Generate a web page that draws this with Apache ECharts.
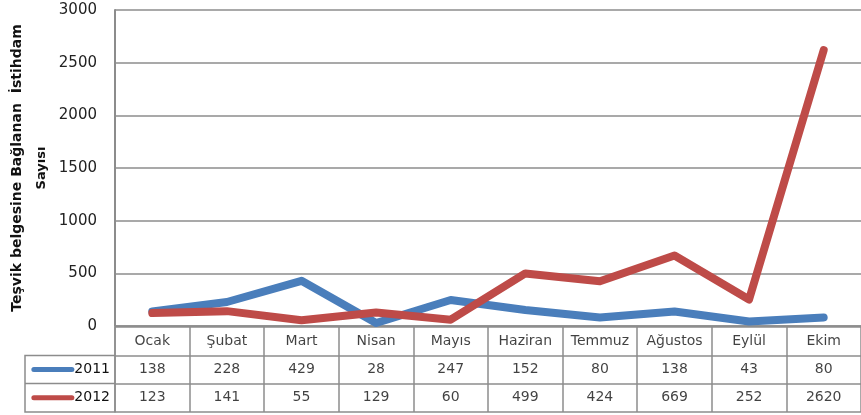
<!DOCTYPE html>
<html>
<head>
<meta charset="utf-8">
<script src="https://cdn.jsdelivr.net/npm/echarts@6/dist/echarts.min.js"></script>
<style>
html, body { margin: 0; padding: 0; background: #fff; }
#chart { width: 861px; height: 415px; }
</style>
</head>
<body>
<div id="chart"></div>
<script>
// aylar ve yıllara göre istihdam sayıları
const months = ['Ocak', 'Şubat', 'Mart', 'Nisan', 'Mayıs', 'Haziran', 'Temmuz', 'Ağustos', 'Eylül', 'Ekim']
const years = ['2011', '2012']
const data2011 = [138, 228, 429, 28, 247, 152, 80, 138, 43, 80]
const data2012 = [123, 141, 55, 129, 60, 499, 424, 669, 252, 2620]
const colors = ['#4a7ebb', '#be4b48']
const yTicks = { min: 0, max: 3000, interval: 500 }

const FONT = 'DejaVu Sans'
const GRID_COLOR = '#8c8c8c'

let chart = echarts.init(document.getElementById('chart'))

// tablo hücreleri: [ay indeksi, satır, değer]
let cells = []
months.forEach(function (m, i) {
  cells.push([i, 'ay', m])
  cells.push([i, years[0], data2011[i]])
  cells.push([i, years[1], data2012[i]])
})

let option = {
  animation: false,
  grid: [
    { left: 115, right: 0, top: 10, height: 316, containLabel: false, outerBoundsMode: 'none' },
    { left: 115, right: 0, top: 327, height: 85, containLabel: false, outerBoundsMode: 'none' }
  ],
  xAxis: [{
    gridIndex: 0,
    type: 'category',
    data: months,
    boundaryGap: true,
    axisLine: { show: true, lineStyle: { color: GRID_COLOR, width: 1.5 } },
    axisTick: { show: false },
    axisLabel: { show: false },
    splitLine: { show: false }
  }, {
    gridIndex: 1,
    type: 'category',
    data: months,
    boundaryGap: true,
    axisLine: { show: false },
    axisTick: { show: false },
    axisLabel: { show: false },
    splitLine: { show: true, lineStyle: { color: GRID_COLOR, width: 1.5 } }
  }],
  yAxis: [{
    gridIndex: 0,
    type: 'value',
    min: yTicks.min,
    max: yTicks.max,
    interval: yTicks.interval,
    axisLine: { show: true, lineStyle: { color: GRID_COLOR, width: 2 } },
    axisTick: { show: false },
    axisLabel: {
      color: '#222', fontFamily: FONT, fontSize: 15, margin: 18,
      formatter: function (v) { return String(v) }
    },
    splitLine: { show: true, lineStyle: { color: GRID_COLOR, width: 1.5 } },
    name: '{a|Teşvik belgesine Bağlanan  İstihdam}\n{b|Sayısı}',
    nameLocation: 'middle',
    nameRotate: 90,
    nameGap: 60,
    nameTextStyle: {
      rich: {
        a: { fontFamily: FONT, fontWeight: 'bold', fontSize: 14, color: '#111', lineHeight: 24 },
        b: { fontFamily: FONT, fontWeight: 'bold', fontSize: 13, color: '#111', lineHeight: 24 }
      }
    }
  }, {
    gridIndex: 1,
    type: 'category',
    data: ['ay'].concat(years),
    inverse: true,
    boundaryGap: true,
    axisLine: { show: true, lineStyle: { color: GRID_COLOR, width: 1.5 } },
    axisTick: { show: false },
    splitLine: { show: true, lineStyle: { color: GRID_COLOR, width: 1.5 } },
    axisLabel: {
      margin: 5,
      formatter: function (v) {
        let idx = years.indexOf(v)
        if (idx < 0) return ''
        return '{l' + idx + '|}{t|' + v + '}'
      },
      rich: {
        l0: { width: 43, height: 5, backgroundColor: colors[0], borderRadius: 3 },
        l1: { width: 43, height: 5, backgroundColor: colors[1], borderRadius: 3 },
        t: { fontFamily: FONT, fontSize: 14, color: '#111' }
      }
    }
  }],
  graphic: [{
    type: 'polyline',
    shape: { points: [[115, 355.5], [25, 355.5], [25, 412], [115, 412]] },
    style: { stroke: GRID_COLOR, lineWidth: 1.5, fill: null }
  }, {
    type: 'line',
    shape: { x1: 25, y1: 383.5, x2: 115, y2: 383.5 },
    style: { stroke: GRID_COLOR, lineWidth: 1.5 }
  }],
  series: [{
    name: years[0],
    type: 'line',
    xAxisIndex: 0,
    yAxisIndex: 0,
    data: data2011,
    symbol: 'none',
    lineStyle: { color: colors[0], width: 8, cap: 'round', join: 'round' }
  }, {
    name: years[1],
    type: 'line',
    xAxisIndex: 0,
    yAxisIndex: 0,
    data: data2012,
    symbol: 'none',
    lineStyle: { color: colors[1], width: 8, cap: 'round', join: 'round' }
  }, {
    name: 'tablo',
    type: 'scatter',
    xAxisIndex: 1,
    yAxisIndex: 1,
    data: cells,
    symbolSize: 0,
    label: {
      show: true,
      position: 'inside',
      fontFamily: FONT,
      fontSize: 14,
      color: '#111',
      formatter: function (p) { return p.value[2] }
    }
  }]
}

chart.setOption(option)
window.addEventListener('resize', function () {
  chart.resize()
})
</script>
</body>
</html>
